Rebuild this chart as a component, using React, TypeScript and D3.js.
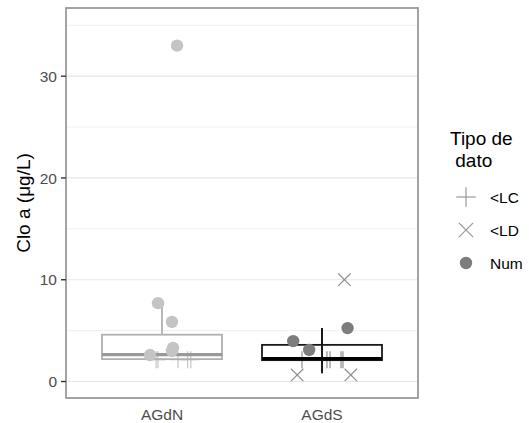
import React from "react";
import * as d3 from "d3";

const categories = ["AGdN", "AGdS"];
const yTicks = [0, 10, 20, 30];
const yMinor = [5, 15, 25, 35];

// Box stats per category: lower whisker, Q1, median, Q3, upper whisker
const boxLow = [2.2, 0.8];
const boxQ1 = [2.2, 2.1];
const boxMed = [2.65, 2.25];
const boxQ3 = [4.6, 3.6];
const boxHigh = [7.7, 5.25];

// Points: category index, value, jitter (category units), type
const ptCat = [0, 0, 0, 0, 0, 0, 0, 0, 0, 0, 0, 1, 1, 1, 1, 1, 1, 1, 1, 1, 1, 1];
const ptVal = [33, 7.7, 5.85, 3.3, 3.0, 2.6, 2.15, 2.15, 2.15, 2.15, 2.15, 3.97, 3.1, 5.25, 10.0, 0.64, 0.64, 2.15, 2.15, 2.15, 2.15, 2.15];
const ptJit = [0.094, -0.025, 0.062, 0.069, 0.062, -0.075, -0.037, -0.025, 0.1, 0.16, 0.18, -0.18, -0.08, 0.16, 0.14, -0.155, 0.18, -0.125, 0.031, 0.05, 0.119, 0.131];
const ptType = ["Num", "Num", "Num", "Num", "Num", "Num", "<LC", "<LC", "<LC", "<LC", "<LC", "Num", "Num", "Num", "<LD", "<LD", "<LD", "<LC", "<LC", "<LC", "<LC", "<LC"];

const legendLabels = ["<LC", "<LD", "Num"];

const W = 529, H = 423;
const P = { left: 66, right: 418, top: 8, bottom: 398 };

export default function App() {
  const x = d3.scaleLinear().domain([-0.6, 1.6]).range([P.left, P.right]);
  const y = d3.scaleLinear().domain([-1.62, 36.7]).range([P.bottom, P.top]);
  const font = "'Liberation Sans', Arial, sans-serif";
  const boxW = 0.75;

  const catColor = (i: number) => (i === 0 ? "#b0b0b0" : "#1a1a1a");
  const medColor = (i: number) => (i === 0 ? "#999999" : "#000000");
  const ptColor = (i: number, t: string) =>
    i === 0 ? "#c4c4c4" : t === "Num" ? "#7d7d7d" : "#8f8f8f";

  const shape = (t: string, cx: number, cy: number, col: string, key: string | number, s = 1) => {
    if (t === "Num") return <circle key={key} cx={cx} cy={cy} r={6.2 * s} fill={col} />;
    if (t === "<LC") {
      const h = 8.5 * s;
      return (
        <g key={key} stroke={col} strokeWidth={1.2}>
          <line x1={cx - h} x2={cx + h} y1={cy} y2={cy} />
          <line x1={cx} x2={cx} y1={cy - h} y2={cy + h} />
        </g>
      );
    }
    const h = 6.2 * s;
    return (
      <g key={key} stroke={col} strokeWidth={1.2}>
        <line x1={cx - h} x2={cx + h} y1={cy - h} y2={cy + h} />
        <line x1={cx - h} x2={cx + h} y1={cy + h} y2={cy - h} />
      </g>
    );
  };

  return (
    <svg width={W} height={H} style={{ position: "absolute", left: 0, top: 0, background: "#fff" }} fontFamily={font}>
      <rect x={0} y={0} width={W} height={H} fill="#fff" />
      {/* grid */}
      {yMinor.map((v) => (
        <line key={"mn" + v} x1={P.left} x2={P.right} y1={y(v)} y2={y(v)} stroke="#efefef" strokeWidth={1} />
      ))}
      {yTicks.map((v) => (
        <line key={"mj" + v} x1={P.left} x2={P.right} y1={y(v)} y2={y(v)} stroke="#e6e6e6" strokeWidth={1.2} />
      ))}
      {/* points drawn under boxes for LC marks */}
      {ptVal.map((v, k) =>
        ptType[k] === "<LC" ? shape(ptType[k], x(ptCat[k] + ptJit[k]), y(v), ptColor(ptCat[k], ptType[k]), "lc" + k) : null
      )}
      {/* boxes */}
      {categories.map((c, i) => {
        const cx = x(i);
        const x0 = x(i - boxW / 2), x1 = x(i + boxW / 2);
        return (
          <g key={"box" + c}>
            {i === 1 ? (
              <line x1={cx} x2={cx} y1={y(boxLow[i])} y2={y(boxHigh[i])} stroke={catColor(i)} strokeWidth={2} />
            ) : (
              <line x1={cx} x2={cx} y1={y(boxQ3[i])} y2={y(boxHigh[i])} stroke={catColor(i)} strokeWidth={1.8} />
            )}
            <rect x={x0} y={y(boxQ3[i])} width={x1 - x0} height={y(boxQ1[i]) - y(boxQ3[i])} fill="none" stroke={catColor(i)} strokeWidth={1.8} />
            <line x1={x0} x2={x1} y1={y(boxMed[i])} y2={y(boxMed[i])} stroke={medColor(i)} strokeWidth={3.2} />
          </g>
        );
      })}
      {/* other points */}
      {ptVal.map((v, k) =>
        ptType[k] !== "<LC" ? shape(ptType[k], x(ptCat[k] + ptJit[k]), y(v), ptColor(ptCat[k], ptType[k]), "p" + k) : null
      )}
      {/* panel border */}
      <rect x={P.left} y={P.top} width={P.right - P.left} height={P.bottom - P.top} fill="none" stroke="#9a9a9a" strokeWidth={1.8} />
      {/* y axis */}
      {yTicks.map((v) => (
        <g key={"yt" + v}>
          <line x1={P.left - 5} x2={P.left} y1={y(v)} y2={y(v)} stroke="#333" strokeWidth={1.4} />
          <text x={P.left - 9} y={y(v)} dy="0.36em" textAnchor="end" fontSize={15.5} fill="#4d4d4d">{v}</text>
        </g>
      ))}
      {categories.map((c, i) => (
        <text key={"xl" + c} x={x(i)} y={420} textAnchor="middle" fontSize={15.5} fill="#4d4d4d">{c}</text>
      ))}
      <text transform={`translate(${30},${(P.top + P.bottom) / 2}) rotate(-90)`} textAnchor="middle" fontSize={19} fill="#000">
        Clo a (μg/L)
      </text>
      {/* legend */}
      <text x={450} y={145} fontSize={19} fill="#000">Tipo de</text>
      <text x={450} y={167} fontSize={19} fill="#000" xmlSpace="preserve">{" dato"}</text>
      {legendLabels.map((l, k) => {
        const cy = 197 + k * 33;
        return (
          <g key={"lg" + l}>
            {shape(l, 466, cy, l === "Num" ? "#7d7d7d" : "#999999", "ls" + k, l === "Num" ? 1 : 1.15)}
            <text x={490} y={cy} dy="0.36em" fontSize={15.5} fill="#000">{l}</text>
          </g>
        );
      })}
    </svg>
  );
}
